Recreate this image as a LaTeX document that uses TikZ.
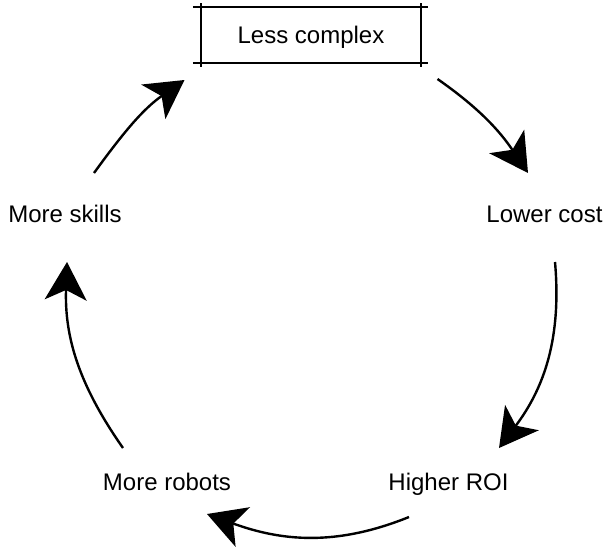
\documentclass[tikz,border=0pt]{standalone}
\usepackage{fontspec}
\setmainfont{Liberation Sans}
\usetikzlibrary{arrows.meta}

\begin{document}
\begin{tikzpicture}[x=1pt,y=1pt,
    lbl/.style={font=\fontsize{24}{28}\selectfont, text height=17.5pt, text depth=0pt, inner sep=0pt},
    cyc/.style={line width=2.4pt, -{Stealth[length=38pt,width=42pt,inset=10pt]}},
    sketch/.style={line width=1.7pt},
    sketchv/.style={line width=2.4pt}]
      \useasboundingbox (0,0) rectangle (607,-546);
      \node[lbl, minimum width=220pt, minimum height=55pt] (less) at (311,-35) {Less complex};
      \node[lbl] (lower) at (544.5,-214) {Lower cost};
      \node[lbl] (higher) at (448.5,-481.5) {Higher ROI};
      \node[lbl] (robots) at (167,-481.5) {More robots};
      \node[lbl] (skills) at (65,-213.5) {More skills};
      % rough box
      \draw[sketch] ([xshift=-8pt]less.north west) -- ([xshift=7pt]less.north east);
      \draw[sketch] ([xshift=-8pt]less.south west) -- ([xshift=7pt]less.south east);
      \draw[sketchv] ([yshift=4pt]less.north west) -- ([yshift=-4pt]less.south west);
      \draw[sketchv] ([yshift=4pt]less.north east) -- ([yshift=-4pt]less.south east);
      % cycle
      \draw[cyc] ([shift={(126.5,-44)}]less.center) to[out=-35,in=124] ([shift={(-16.5,41)}]lower.center);
      \draw[cyc] ([shift={(10.5,-48)}]lower.center) to[out=-85,in=53] ([shift={(50.5,33.5)}]higher.center);
      \draw[cyc] ([shift={(-39.5,-35.5)}]higher.center) to[out=-158,in=-20] ([shift={(40,-32.5)}]robots.center);
      \draw[cyc] ([shift={(-44,33.5)}]robots.center) to[out=125,in=-92] ([shift={(2,-48.5)}]skills.center);
      \draw[cyc] ([shift={(29,40.5)}]skills.center) to[out=54,in=-145] ([shift={(-126.5,-45)}]less.center);
    \end{tikzpicture}
\end{document}
